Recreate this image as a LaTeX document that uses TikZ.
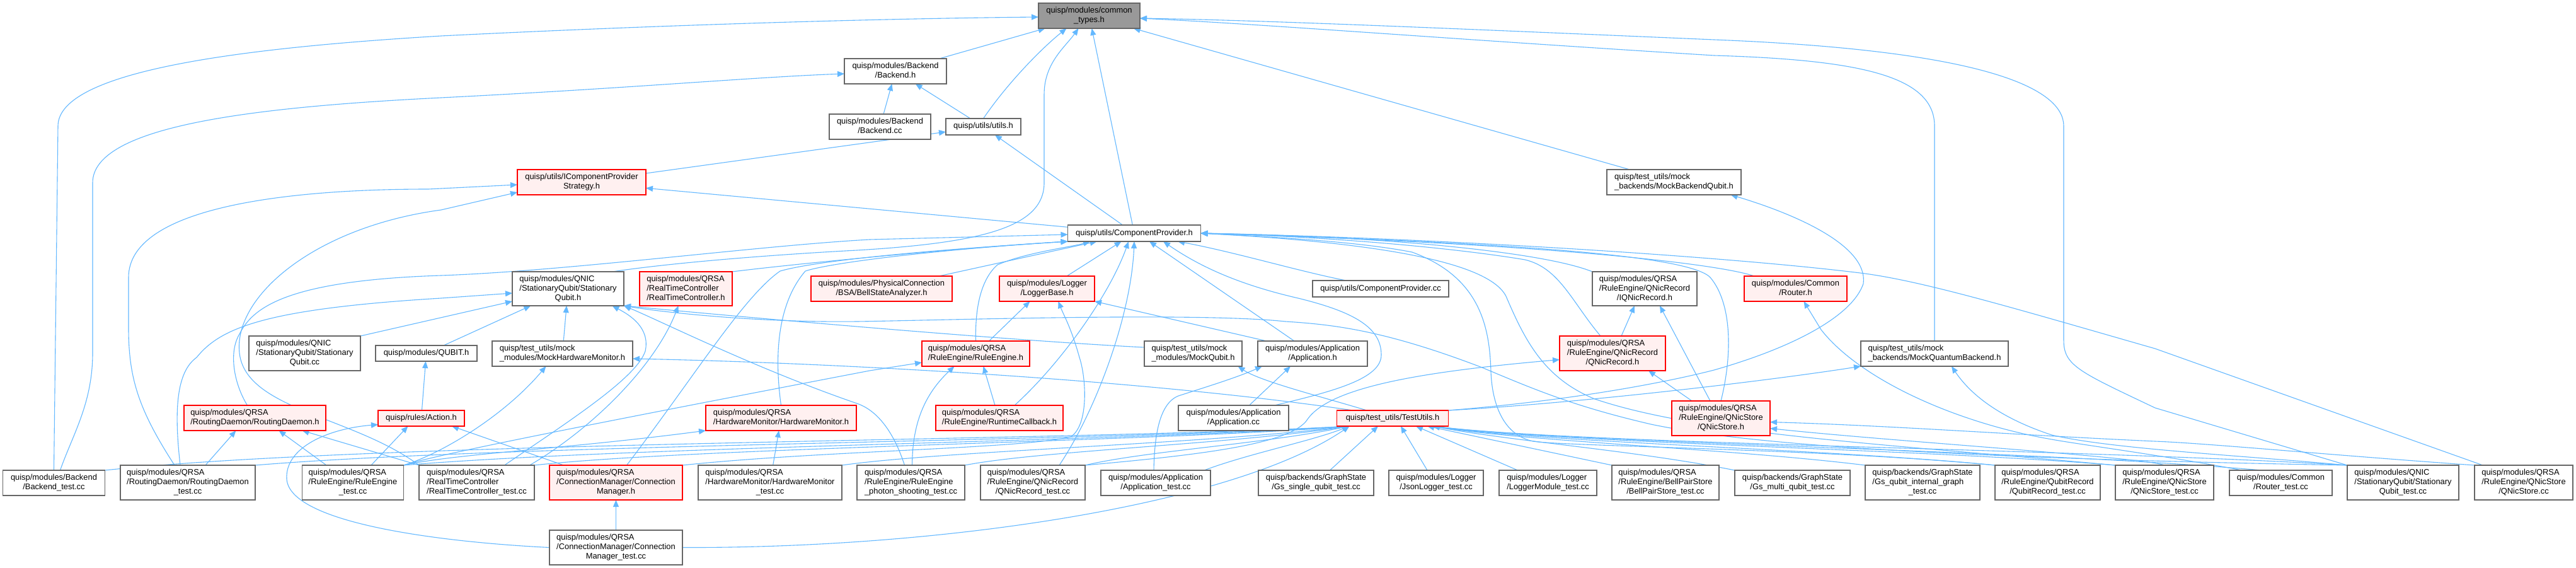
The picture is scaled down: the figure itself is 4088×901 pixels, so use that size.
\documentclass[tikz,border=0pt]{standalone}
\usepackage{fontspec}
\setmainfont{Liberation Sans}
\usetikzlibrary{arrows.meta}
\definecolor{edgeblue}{HTML}{63B8FF}
\definecolor{boxgray}{HTML}{666666}
\definecolor{pinkfill}{HTML}{FFF0F0}
\definecolor{rootfill}{HTML}{999999}
\pgfdeclarelayer{bg}
\pgfsetlayers{bg,main}
\newcommand\nodefont{\fontsize{12.9}{15}\selectfont}
\newcommand\lft[1]{\multicolumn{1}{@{}l@{}}{#1}}
\newcommand\gnode[7]{\node[#1, minimum width=#5pt, minimum height=#6pt] (#2) at (#3,#4) {\begin{tabular}{@{}c@{}}#7\end{tabular}};}
\tikzset{
  gbox/.style={draw=boxgray, fill=white, line width=1.1pt, inner sep=0pt, outer sep=0pt, font=\nodefont, text=black},
  rbox/.style={gbox, draw=red, fill=pinkfill},
  root/.style={gbox, fill=rootfill},
  dep/.style={draw=edgeblue, line width=1.1pt, -{Triangle[length=11pt,width=9pt]}}
}
\begin{document}
\begin{tikzpicture}[x=1pt,y=-1pt]
\useasboundingbox (0,0) rectangle (4088,901);
% ---------- nodes ----------
\gnode{root}{ct}{1728.5}{25}{161}{40}{\lft{quisp/modules/common}\\\_types.h}
\gnode{gbox}{backendh}{1421}{113}{162}{40}{\lft{quisp/modules/Backend}\\/Backend.h}
\gnode{gbox}{backendcc}{1396.5}{201}{161}{40}{\lft{quisp/modules/Backend}\\/Backend.cc}
\gnode{gbox}{utils}{1560.5}{201}{119}{26}{quisp/utils/utils.h}
\gnode{gbox}{mbq}{2656.5}{289}{213}{40}{\lft{quisp/test\_utils/mock}\\\_backends/MockBackendQubit.h}
\gnode{rbox}{icps}{923}{289}{204}{40}{\lft{quisp/utils/IComponentProvider}\\Strategy.h}
\gnode{gbox}{cph}{1800}{370}{211}{26}{quisp/utils/ComponentProvider.h}
\gnode{gbox}{sqh}{901.5}{458}{177}{54}{\lft{quisp/modules/QNIC}\\\lft{/StationaryQubit/Stationary}\\Qubit.h}
\gnode{rbox}{rtch}{1088.5}{458}{147}{54}{\lft{quisp/modules/QRSA}\\\lft{/RealTimeController}\\/RealTimeController.h}
\gnode{rbox}{bsa}{1399}{458}{224}{40}{\lft{quisp/modules/PhysicalConnection}\\/BSA/BellStateAnalyzer.h}
\gnode{rbox}{loggerbase}{1661.5}{458}{151}{40}{\lft{quisp/modules/Logger}\\/LoggerBase.h}
\gnode{gbox}{cpcc}{2191}{458}{216}{26}{quisp/utils/ComponentProvider.cc}
\gnode{gbox}{iqnr}{2610}{458}{166}{54}{\lft{quisp/modules/QRSA}\\\lft{/RuleEngine/QNicRecord}\\/IQNicRecord.h}
\gnode{rbox}{routerh}{2849.5}{458}{163}{40}{\lft{quisp/modules/Common}\\/Router.h}
\gnode{gbox}{sqcc}{483.5}{560.5}{177}{55}{\lft{quisp/modules/QNIC}\\\lft{/StationaryQubit/Stationary}\\Qubit.cc}
\gnode{gbox}{qubit}{676.5}{560.5}{161}{25}{quisp/modules/QUBIT.h}
\gnode{gbox}{mhm}{892.5}{561}{223}{40}{\lft{quisp/test\_utils/mock}\\\_modules/MockHardwareMonitor.h}
\gnode{rbox}{reh}{1548.5}{561}{171}{40}{\lft{quisp/modules/QRSA}\\/RuleEngine/RuleEngine.h}
\gnode{gbox}{mockqubit}{1893.5}{561}{155}{40}{\lft{quisp/test\_utils/mock}\\\_modules/MockQubit.h}
\gnode{gbox}{apph}{2083}{561}{174}{40}{\lft{quisp/modules/Application}\\/Application.h}
\gnode{rbox}{qnr}{2559}{560.5}{168}{55}{\lft{quisp/modules/QRSA}\\\lft{/RuleEngine/QNicRecord}\\/QNicRecord.h}
\gnode{gbox}{mqb}{3070}{561}{234}{40}{\lft{quisp/test\_utils/mock}\\\_backends/MockQuantumBackend.h}
\gnode{rbox}{rdh}{404.5}{663}{225}{40}{\lft{quisp/modules/QRSA}\\/RoutingDaemon/RoutingDaemon.h}
\gnode{rbox}{action}{668.5}{663.5}{137}{25}{quisp/rules/Action.h}
\gnode{rbox}{hmh}{1239.5}{663}{239}{40}{\lft{quisp/modules/QRSA}\\/HardwareMonitor/HardwareMonitor.h}
\gnode{rbox}{runtimecb}{1586}{663}{202}{40}{\lft{quisp/modules/QRSA}\\/RuleEngine/RuntimeCallback.h}
\gnode{gbox}{appcc}{1957.5}{663}{175}{40}{\lft{quisp/modules/Application}\\/Application.cc}
\gnode{rbox}{tu}{2210}{663.5}{177}{25}{quisp/test\_utils/TestUtils.h}
\gnode{rbox}{qns}{2731}{663.5}{156}{55}{\lft{quisp/modules/QRSA}\\\lft{/RuleEngine/QNicStore}\\/QNicStore.h}
\gnode{gbox}{backendtest}{85.5}{766}{162}{40}{\lft{quisp/modules/Backend}\\/Backend\_test.cc}
\gnode{gbox}{rdtest}{298}{765.5}{214}{55}{\lft{quisp/modules/QRSA}\\\lft{/RoutingDaemon/RoutingDaemon}\\\_test.cc}
\gnode{gbox}{retest}{560}{765.5}{161}{55}{\lft{quisp/modules/QRSA}\\\lft{/RuleEngine/RuleEngine}\\\_test.cc}
\gnode{gbox}{rtctest}{756.5}{765.5}{183}{55}{\lft{quisp/modules/QRSA}\\\lft{/RealTimeController}\\/RealTimeController\_test.cc}
\gnode{rbox}{cmh}{977.5}{765.5}{211}{55}{\lft{quisp/modules/QRSA}\\\lft{/ConnectionManager/Connection}\\Manager.h}
\gnode{gbox}{hmtest}{1222}{765.5}{228}{55}{\lft{quisp/modules/QRSA}\\\lft{/HardwareMonitor/HardwareMonitor}\\\_test.cc}
\gnode{gbox}{photon}{1445.5}{765.5}{171}{55}{\lft{quisp/modules/QRSA}\\\lft{/RuleEngine/RuleEngine}\\\_photon\_shooting\_test.cc}
\gnode{gbox}{qnrtest}{1639}{765.5}{166}{55}{\lft{quisp/modules/QRSA}\\\lft{/RuleEngine/QNicRecord}\\/QNicRecord\_test.cc}
\gnode{gbox}{apptest}{1834}{766}{174}{40}{\lft{quisp/modules/Application}\\/Application\_test.cc}
\gnode{gbox}{gssingle}{2088.5}{766}{183}{40}{\lft{quisp/backends/GraphState}\\/Gs\_single\_qubit\_test.cc}
\gnode{gbox}{jsonlog}{2279}{766}{150}{40}{\lft{quisp/modules/Logger}\\/JsonLogger\_test.cc}
\gnode{gbox}{loggermod}{2456.5}{766}{155}{40}{\lft{quisp/modules/Logger}\\/LoggerModule\_test.cc}
\gnode{gbox}{bpstest}{2643}{765.5}{170}{55}{\lft{quisp/modules/QRSA}\\\lft{/RuleEngine/BellPairStore}\\/BellPairStore\_test.cc}
\gnode{gbox}{gsmulti}{2844.5}{766}{183}{40}{\lft{quisp/backends/GraphState}\\/Gs\_multi\_qubit\_test.cc}
\gnode{gbox}{gsinternal}{3051}{765.5}{182}{55}{\lft{quisp/backends/GraphState}\\\lft{/Gs\_qubit\_internal\_graph}\\\_test.cc}
\gnode{gbox}{qrtest}{3249.5}{765.5}{167}{55}{\lft{quisp/modules/QRSA}\\\lft{/RuleEngine/QubitRecord}\\/QubitRecord\_test.cc}
\gnode{gbox}{qnstest}{3435}{765.5}{156}{55}{\lft{quisp/modules/QRSA}\\\lft{/RuleEngine/QNicStore}\\/QNicStore\_test.cc}
\gnode{gbox}{routertest}{3619.5}{766}{163}{40}{\lft{quisp/modules/Common}\\/Router\_test.cc}
\gnode{gbox}{sqtest}{3813.5}{765.5}{177}{55}{\lft{quisp/modules/QNIC}\\\lft{/StationaryQubit/Stationary}\\Qubit\_test.cc}
\gnode{gbox}{qnscc}{4005}{765.5}{156}{55}{\lft{quisp/modules/QRSA}\\\lft{/RuleEngine/QNicStore}\\/QNicStore.cc}
\gnode{gbox}{cmtest}{977.5}{868.5}{211}{55}{\lft{quisp/modules/QRSA}\\\lft{/ConnectionManager/Connection}\\Manager\_test.cc}
% ---------- edges ----------
\begin{pgfonlayer}{bg}
\fill[white] (0,0) rectangle (4088,901);
% into common_types.h
\draw[dep] (backendh) -- (ct);
\draw[dep] (utils.north) .. controls (1600,130) and (1655,75) .. ([xshift=-36]ct.south);
\draw[dep] (cph) -- (ct);
\draw[dep] (mbq) -- (ct);
\draw[dep] (mqb.north) -- (3070,200) .. controls (3070,120) and (2950,95) .. (2720,88) .. controls (2300,62) and (2000,38) .. ([yshift=-4]ct.east);
\draw[dep] (sqtest.north west) -- (3420,647) .. controls (3300,590) and (3275,580) .. (3275,540) -- (3275,200) .. controls (3275,140) and (3150,80) .. (2720,63) .. controls (2300,45) and (2000,32) .. ([yshift=-4]ct.east);
\draw[dep] (backendtest.north) -- (92,200) .. controls (92,110) and (400,75) .. (700,57) .. controls (1000,42) and (1350,30) .. ([yshift=-2]ct.west);
\draw[dep] ([xshift=70]sqh.north) .. controls (1100,412) and (1300,400) .. (1360,397) .. controls (1560,385) and (1657,360) .. (1657,290) -- (1657,150) .. controls (1657,100) and (1690,75) .. ([xshift=-17]ct.south);
% Backend.h
\draw[dep] (backendcc) -- (backendh);
\draw[dep] (utils) -- (backendh);
\draw[dep] ([xshift=10]backendtest.north) .. controls (115,690) and (147,640) .. (147,560) -- (147,290) .. controls (147,200) and (400,170) .. (700,155) .. controls (1000,140) and (1200,122) .. ([yshift=-4]backendh.west);
% utils.h
\draw[dep] (icps) -- (utils);
\draw[dep] (cph) -- (utils);
% IComponentProviderStrategy.h
\draw[dep] (cph) -- (icps);
\draw[dep] ([xshift=-21]rdtest.north) .. controls (220,650) and (204,600) .. (204,520) -- (204,440) .. controls (204,330) and (450,300) .. (680,300) -- ([yshift=-4]icps.west);
\draw[dep] (rtctest.north west) .. controls (560,660) and (390,650) .. (380,560) .. controls (370,470) and (500,360) .. (700,333) -- ([yshift=-16]icps.west);
% ComponentProvider.h
\draw[dep] ([xshift=-12]rdh.north) .. controls (372,610) and (362,560) .. (380,530) .. controls (400,490) and (450,445) .. (700,437) .. controls (900,430) and (1200,390) .. (1380,380) -- ([yshift=-2]cph.west);
\draw[dep] (rtch.north east) .. controls (1250,420) and (1500,395) .. (cph.south west);
\draw[dep] ([xshift=17]cmh.north) .. controls (1100,600) and (1180,470) .. (1238,430) .. controls (1300,412) and (1500,395) .. (cph.south west);
\draw[dep] (hmh.north) .. controls (1228,560) and (1235,480) .. (1278,430) .. controls (1320,416) and (1500,395) .. (cph.south west);
\draw[dep] (bsa) -- (cph);
\draw[dep] (loggerbase) -- (cph);
\draw[dep] (reh.north) .. controls (1547,480) and (1560,440) .. (1583,420) .. controls (1630,400) and (1700,392) .. ([xshift=-70]cph.south);
\draw[dep] ([xshift=24]runtimecb.north) .. controls (1680,580) and (1760,470) .. ([xshift=-9]cph.south);
\draw[dep] ([xshift=42]qnrtest.north) .. controls (1740,650) and (1795,500) .. (cph.south);
\draw[dep] ([xshift=-29]apph.north) -- ([xshift=24]cph.south);
\draw[dep] ([xshift=65]appcc.north) .. controls (2120,620) and (2192,600) .. (2192,563) .. controls (2192,520) and (2150,495) .. (2060,473) .. controls (1960,450) and (1900,420) .. ([xshift=46]cph.south);
\draw[dep] ([xshift=-55]cpcc.north) .. controls (2060,430) and (1960,400) .. ([xshift=69]cph.south);
\draw[dep] (iqnr.north west) .. controls (2450,400) and (2200,375) .. (cph.east);
\draw[dep] ([xshift=-19]qnr.north) .. controls (2495,480) and (2475,425) .. (2420,412) .. controls (2300,392) and (2100,375) .. (cph.east);
\draw[dep] (qns.north) .. controls (2750,560) and (2748,480) .. (2714,440) .. controls (2680,405) and (2400,385) .. (cph.east);
\draw[dep] ([xshift=-66]routerh.north) .. controls (2740,422) and (2500,388) .. (cph.east);
\draw[dep] ([xshift=-65]qnscc.north) -- (3420,553) .. controls (3200,490) and (3050,445) .. (2952,433) .. controls (2750,408) and (2300,378) .. (cph.east);
\draw[dep] (qrtest.north west) .. controls (2900,712) and (2480,708) .. (2433,700) .. controls (2385,690) and (2368,640) .. (2366,590) .. controls (2364,520) and (2350,440) .. (2241,400) .. controls (2150,382) and (2000,375) .. (cph.east);
\draw[dep] (qnstest.north west) .. controls (3000,705) and (2700,690) .. (2531,633) .. controls (2450,600) and (2420,540) .. (2390,470) .. controls (2360,410) and (2150,383) .. (cph.east);
% from TestUtils.h
\draw[dep] ([xshift=88]tu.north) .. controls (2500,635) and (2650,605) .. (2720,587) .. controls (2850,550) and (2940,500) .. (2957,450) .. controls (2965,390) and (2850,340) .. ([xshift=90]mbq.south);
\draw[dep] ([xshift=88]tu.north) .. controls (2500,640) and (2800,605) .. (mqb.south west);
\draw[dep] ([xshift=-63]tu.north) .. controls (1800,600) and (1300,575) .. ([yshift=-8]mhm.east);
\draw[dep] ([xshift=-41]tu.north) .. controls (2100,630) and (2000,605) .. ([xshift=71]mockqubit.south);
% StationaryQubit.h
\draw[dep] (sqcc.north east) -- ([yshift=-20]sqh.west);
\draw[dep] ([xshift=-12]rdtest.north) .. controls (276,650) and (280,590) .. (312,567) .. controls (350,520) and (420,490) .. (700,473) -- ([yshift=-7]sqh.west);
\draw[dep] (qubit) -- (sqh);
\draw[dep] (mhm) -- (sqh);
\draw[dep] ([xshift=44]rtctest.north) .. controls (900,670) and (1010,600) .. (1024,557) .. controls (1032,520) and (1000,500) .. ([xshift=70]sqh.south);
\draw[dep] ([yshift=10]mockqubit.west) .. controls (1600,540) and (1200,505) .. (sqh.south east);
\draw[dep] ([xshift=-10]photon.north) .. controls (1420,690) and (1395,652) .. (1360,640) .. controls (1200,585) and (1050,510) .. (sqh.south east);
\draw[dep] (sqtest.north west) .. controls (3000,725) and (2750,700) .. (2620,673) .. controls (2500,645) and (2440,620) .. (2352,583) .. controls (2200,525) and (2120,515) .. (2040,510) .. controls (1900,495) and (1500,508) .. (1360,510) .. controls (1200,512) and (1050,495) .. (sqh.south east);
% QUBIT.h, Action.h
\draw[dep] (action) -- (qubit);
\draw[dep] ([xshift=29]retest.north) -- ([xshift=-21]action.south);
\draw[dep] (cmtest.west) .. controls (700,860) and (460,830) .. (455,760) .. controls (452,710) and (520,680) .. ([yshift=-10]action.west);
\draw[dep] ([xshift=-83]cmh.north) -- ([xshift=-20]action.south east);
% MockHardwareMonitor.h
\draw[dep] (retest.north east) .. controls (700,720) and (800,660) .. ([xshift=-26]mhm.south);
% RuleEngine.h
\draw[dep] (retest.north east) .. controls (690,722) and (900,680) .. (1380,588) -- ([yshift=-14]reh.west);
\draw[dep] ([xshift=2]photon.north) .. controls (1448,680) and (1462,630) .. ([xshift=-34]reh.south);
\draw[dep] ([xshift=-7]runtimecb.north) -- ([xshift=12]reh.south);
% LoggerBase.h
\draw[dep] ([xshift=21]reh.north) -- ([xshift=-27]loggerbase.south);
\draw[dep] ([xshift=-73]apph.north) -- (loggerbase.south east);
\draw[dep] (cmh.north east) .. controls (1300,715) and (1620,712) .. (1699,693) .. controls (1728,675) and (1724,600) .. (1713,567) .. controls (1700,520) and (1688,500) .. ([xshift=18]loggerbase.south);
% Application.h
\draw[dep] ([xshift=25]appcc.north) -- ([xshift=-35]apph.south);
\draw[dep] ([xshift=-3]apptest.north) .. controls (1832,690) and (1840,640) .. (1870,628) .. controls (1920,612) and (1965,598) .. ([xshift=-80]apph.south);
% QNicRecord, IQNicRecord
\draw[dep] (qnrtest.north east) .. controls (1900,722) and (2050,705) .. (2075,665) .. controls (2110,615) and (2250,590) .. ([yshift=-10]qnr.west);
\draw[dep] ([xshift=-46]qns.north) -- ([xshift=57]qnr.south);
\draw[dep] ([xshift=14]qnr.north) -- ([xshift=-16]iqnr.south);
\draw[dep] ([xshift=-17]qns.north) -- ([xshift=24]iqnr.south);
% QNicStore.h
\draw[dep] (qnscc.north west) .. controls (3700,722) and (3500,703) .. (3420,700) .. controls (3200,690) and (3000,675) .. ([yshift=-6]qns.east);
\draw[dep] (qnstest.north) .. controls (3400,725) and (3000,700) .. ([yshift=-16]qns.east);
% Router.h, MockQuantumBackend.h
\draw[dep] ([xshift=-62]routertest.north) .. controls (3450,725) and (3300,705) .. (3256,697) .. controls (3100,670) and (2950,600) .. (2890,523) -- ([xshift=13]routerh.south);
\draw[dep] (sqtest.north west) .. controls (3550,722) and (3350,712) .. (3256,690) .. controls (3180,665) and (3130,630) .. ([xshift=27]mqb.south);
% RoutingDaemon.h
\draw[dep] ([xshift=28]rdtest.north) -- ([xshift=-30]rdh.south);
\draw[dep] ([xshift=-42]retest.north) -- ([xshift=38]rdh.south);
\draw[dep] (rtctest.north west) -- ([xshift=75]rdh.south);
% HardwareMonitor.h, ConnectionManager.h, RealTimeController.h
\draw[dep] (hmtest) -- (hmh);
\draw[dep] (retest.north east) .. controls (720,720) and (900,712) .. (hmh.south west);
\draw[dep] (cmtest) -- (cmh);
\draw[dep] ([xshift=84]rtctest.north) .. controls (940,680) and (1040,580) .. ([xshift=-12]rtch.south);
% tests -> TestUtils.h (from left)
\draw[dep] (backendtest.north east) .. controls (600,700) and (1700,700) .. ([xshift=20]tu.south west);
\draw[dep] (rdtest.north east) .. controls (800,705) and (1750,700) .. ([xshift=20]tu.south west);
\draw[dep] (retest.north east) .. controls (1000,708) and (1800,700) .. ([xshift=20]tu.south west);
\draw[dep] (rtctest.north east) .. controls (1100,710) and (1850,700) .. ([xshift=20]tu.south west);
\draw[dep] (hmtest.north east) .. controls (1500,715) and (1900,705) .. ([xshift=20]tu.south west);
\draw[dep] (photon.north east) .. controls (1650,715) and (1950,705) .. ([xshift=20]tu.south west);
\draw[dep] (qnrtest.north east) .. controls (1820,715) and (2000,705) .. ([xshift=20]tu.south west);
\draw[dep] ([xshift=-10]apptest.north east) .. controls (1980,720) and (2080,700) .. ([xshift=20]tu.south west);
\draw[dep] (cmtest.east) .. controls (1500,870) and (1960,800) .. ([xshift=20]tu.south west);
\draw[dep] ([xshift=22]gssingle.north) -- ([xshift=-23]tu.south);
\draw[dep] ([xshift=-14]jsonlog.north) -- ([xshift=13]tu.south);
\draw[dep] ([xshift=-48]loggermod.north) -- ([xshift=37]tu.south);
\draw[dep] (bpstest.north west) -- ([xshift=55]tu.south);
% tests -> TestUtils.h (from right)
\draw[dep] (gsmulti.north west) .. controls (2600,715) and (2400,700) .. ([xshift=-25]tu.south east);
\draw[dep] (gsinternal.north west) .. controls (2750,712) and (2420,700) .. ([xshift=-25]tu.south east);
\draw[dep] (qrtest.north west) .. controls (2900,712) and (2450,702) .. ([xshift=-25]tu.south east);
\draw[dep] (qnstest.north west) .. controls (3050,712) and (2480,703) .. ([xshift=-25]tu.south east);
\draw[dep] ([xshift=-30]routertest.north) .. controls (3200,712) and (2500,704) .. ([xshift=-25]tu.south east);
\draw[dep] (sqtest.north west) .. controls (3300,712) and (2520,705) .. ([xshift=-25]tu.south east);
\end{pgfonlayer}
\end{tikzpicture}
\end{document}
